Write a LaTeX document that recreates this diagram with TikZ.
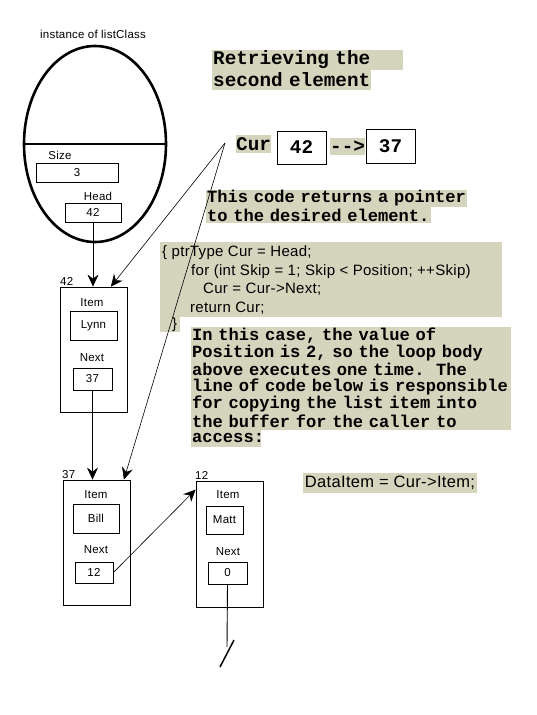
\documentclass[tikz,border=0pt]{standalone}
\usepackage{fontspec}
\setmainfont{Liberation Sans}
\newfontfamily\mono{Liberation Mono}
\newfontfamily\codefont[LetterSpace=2]{Liberation Sans}
\usetikzlibrary{positioning, arrows.meta, shapes.geometric}
\definecolor{paper}{RGB}{213, 213, 190}

\begin{document}
\begin{tikzpicture}[
    x=1pt, y=-1pt,
    hl/.style={fill=paper, anchor=west, inner xsep=1pt, inner ysep=0pt, align=left},
    title/.style={hl, font=\mono\bfseries\fontsize{19.3}{20}\selectfont, minimum height=20pt},
    note/.style={hl, font=\mono\bfseries\fontsize{17.1}{17}\selectfont},
    codeline/.style={anchor=west, inner sep=0pt, font=\codefont\fontsize{15}{18}\selectfont},
    lbl/.style={inner sep=0pt, font=\codefont\fontsize{11.5}{13}\selectfont},
    record/.style={draw, line width=0.8pt, minimum width=67pt, minimum height=125pt, inner sep=0pt},
    field/.style={draw, line width=0.8pt, inner sep=0pt, font=\codefont\fontsize{11.5}{13}\selectfont},
    bigbox/.style={draw, line width=0.8pt, minimum width=49pt, minimum height=33pt, inner sep=0pt, font=\mono\bfseries\fontsize{19.3}{20}\selectfont},
    ptr/.style={line width=0.6pt, -{Stealth[length=12pt, width=11pt, inset=4pt]}}
]
    \useasboundingbox (0,0) rectangle (536,715);

    % the list object
    \node[lbl] (caption) at (93,34) {instance of listClass};
    \node[draw, ellipse, line width=2.6pt, minimum width=142pt, minimum height=196pt, inner sep=0pt] (listobj) at (95,144) {};
    \draw[line width=2.6pt] (listobj.west) -- (listobj.east);
    \node[lbl] (sizelbl) at (60,155) {Size};
    \node[field, minimum width=82pt, minimum height=19pt] (sizeval) at (77,172.5) {3};
    \node[lbl] (headlbl) at (98,196) {Head};
    \node[field, minimum width=56pt, minimum height=19pt] (headval) at (93,212.5) {42};

    % list nodes
    \node[record] (n42) at (94,349.5) {};
    \node[lbl, anchor=south west] (addr42) at (60,286) {42};
    \node[lbl] (item42) at (92,303) {Item};
    \node[field, minimum width=47pt, minimum height=29pt] (val42) at (93.5,325.5) {Lynn};
    \node[lbl] (nextlbl42) at (92,358) {Next};
    \node[field, minimum width=39pt, minimum height=22pt] (next42) at (92.5,379) {37};

    \node[record] (n37) at (97,542.5) {};
    \node[lbl, anchor=south west] (addr37) at (62,479) {37};
    \node[lbl] (item37) at (96,495) {Item};
    \node[field, minimum width=46pt, minimum height=29pt] (val37) at (96,518.5) {Bill};
    \node[lbl] (nextlbl37) at (96,550) {Next};
    \node[field, minimum width=38pt, minimum height=21pt] (next37) at (94,572.5) {12};

    \node[record, minimum height=126pt] (n12) at (229.5,544) {};
    \node[lbl, anchor=south west] (addr12) at (195,480) {12};
    \node[lbl] (item12) at (228,495) {Item};
    \node[field, minimum width=37pt, minimum height=28pt] (val12) at (224.5,520) {Matt};
    \node[lbl] (nextlbl12) at (228,552) {Next};
    \node[field, minimum width=39pt, minimum height=22pt] (next12) at (227.5,573) {0};

    % title and Cur
    \node[title, text width=189pt] (title1) at (212,60) {\mbox{Retrieving the}};
    \node[title, text width=157pt] (title2) at (212,80) {\mbox{second element}};
    \node[title, inner xsep=0pt, minimum height=18pt] (curlbl) at (236,144) {Cur};
    \node[bigbox] (curold) at (301.5,147.5) {42};
    \node[title, inner xsep=0pt, minimum height=17pt] (arrowtxt) at (330,146.5) {{-}{-}>};
    \node[bigbox, minimum height=34pt] (curnew) at (390.5,146) {37};

    \node[note, text width=259pt, minimum height=16.5pt] (note1) at (206,198.5) {\mbox{This code returns a pointer}};
    \node[note, text width=223pt, minimum height=16.5pt] (note2) at (206,215) {\mbox{to the desired element.}};

    % code
    \fill[paper] (160,242) rectangle (502,317);
    \fill[paper] (160,317) rectangle (180,332);
    \node[codeline] (code1) at (162,253) {\{ ptrType Cur = Head;};
    \node[codeline] (code2) at (191,272) {for (int Skip = 1; Skip < Position; ++Skip)};
    \node[codeline] (code3) at (203,289) {Cur = Cur->Next;};
    \node[codeline] (code4) at (190,308) {return Cur;};
    \node[codeline] (code5) at (172,325) {\}};

    \node[note, text width=318pt, minimum height=17.1pt] (para1) at (191,335.5) {\mbox{In this case, the value of}};
    \node[note, text width=318pt, minimum height=17.1pt] (para2) at (191,352.6) {\mbox{Position is 2, so the loop body}};
    \node[note, text width=318pt, minimum height=17.1pt] (para3) at (191,369.7) {\mbox{above executes one time.\ \ The}};
    \node[note, text width=318pt, minimum height=17.1pt] (para4) at (191,386.8) {\mbox{line of code below is responsible}};
    \node[note, text width=318pt, minimum height=17.1pt] (para5) at (191,403.9) {\mbox{for copying the list item into}};
    \node[note, text width=318pt, minimum height=17.1pt] (para6) at (191,421) {\mbox{the buffer for the caller to}};
    \node[note, text width=68pt, minimum height=17.1pt] (para7) at (191,438.1) {\mbox{access:}};

    \node[fill=paper, minimum width=174pt, minimum height=20pt, inner sep=0pt, font=\codefont\fontsize{16.5}{18}\selectfont] (fetch) at (390,483) {DataItem = Cur->Item;};

    % pointers
    \coordinate (curptr) at (225,143);
    \coordinate (nullend) at (227,647);
    \draw[ptr] (headval.south) -- (headval.south |- n42.north);
    \draw[ptr] (curptr) -- ([xshift=-17pt]n42.north east);
    \draw[ptr] (curptr) -- ([xshift=-7pt]n37.north east);
    \draw[ptr] (next42.south) -- (next42.south |- n37.north);
    \draw[ptr] (next37.east) -- ([yshift=-9pt]n12.north west);
    \draw[line width=0.9pt] (next12.south) -- (nullend);
    \draw[line width=1.5pt] ([shift={(-7,20)}]nullend) -- ([shift={(7,-7)}]nullend);
\end{tikzpicture}
\end{document}
